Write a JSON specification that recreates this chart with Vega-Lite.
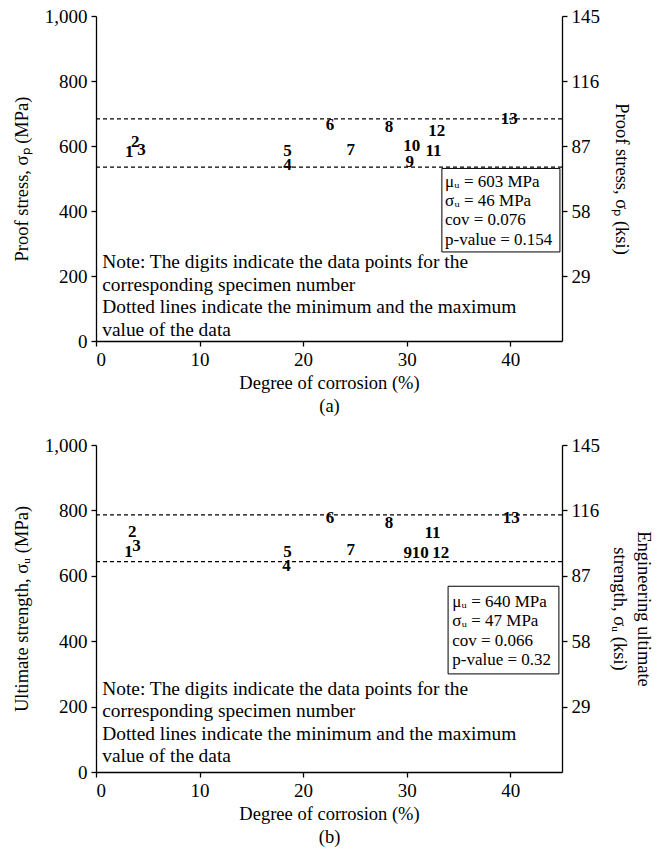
{
  "$schema": "https://vega.github.io/schema/vega-lite/v6.json",
  "padding": {"left": 12, "top": 7, "right": 5, "bottom": 5},
  "spacing": 21,
  "config": {
    "font": "Liberation Serif",
    "view": {"stroke": null},
    "axis": {
      "grid": false,
      "domainColor": "black",
      "tickColor": "black",
      "labelColor": "black",
      "titleColor": "black",
      "labelFontSize": 19,
      "titleFontSize": 18.5,
      "titleFontWeight": "normal",
      "labelFont": "Liberation Serif",
      "titleFont": "Liberation Serif",
      "tickSize": 5,
      "domainWidth": 1.3,
      "tickWidth": 1.3
    },
    "text": {"font": "Liberation Serif", "color": "black"}
  },
  "datasets": {
    "proof": [
      {"specimen": "1", "corrosion": 3.2, "stress": 581},
      {"specimen": "2", "corrosion": 3.8, "stress": 613},
      {"specimen": "3", "corrosion": 4.4, "stress": 589},
      {"specimen": "4", "corrosion": 18.5, "stress": 542},
      {"specimen": "5", "corrosion": 18.5, "stress": 585},
      {"specimen": "6", "corrosion": 22.6, "stress": 665},
      {"specimen": "7", "corrosion": 24.6, "stress": 589},
      {"specimen": "8", "corrosion": 28.3, "stress": 658},
      {"specimen": "9", "corrosion": 30.3, "stress": 550},
      {"specimen": "10", "corrosion": 30.5, "stress": 601},
      {"specimen": "11", "corrosion": 32.6, "stress": 585},
      {"specimen": "12", "corrosion": 32.9, "stress": 645},
      {"specimen": "13", "corrosion": 39.9, "stress": 683}
    ],
    "ultimate": [
      {"specimen": "1", "corrosion": 3.15, "stress": 672},
      {"specimen": "2", "corrosion": 3.5, "stress": 735},
      {"specimen": "3", "corrosion": 3.9, "stress": 690},
      {"specimen": "4", "corrosion": 18.4, "stress": 631},
      {"specimen": "5", "corrosion": 18.5, "stress": 672},
      {"specimen": "6", "corrosion": 22.6, "stress": 776},
      {"specimen": "7", "corrosion": 24.6, "stress": 680},
      {"specimen": "8", "corrosion": 28.3, "stress": 761},
      {"specimen": "9", "corrosion": 30.1, "stress": 670},
      {"specimen": "10", "corrosion": 31.3, "stress": 670},
      {"specimen": "11", "corrosion": 32.5, "stress": 731},
      {"specimen": "12", "corrosion": 33.3, "stress": 670},
      {"specimen": "13", "corrosion": 40.1, "stress": 776}
    ],
    "proofBounds": [
      {"bound": "max", "ksi": 99.1},
      {"bound": "min", "ksi": 77.6}
    ],
    "ultimateBounds": [
      {"bound": "max", "ksi": 114.0},
      {"bound": "min", "ksi": 93.3}
    ],
    "single": [{}]
  },
  "vconcat": [
    {
      "width": 466,
      "height": 325,
      "layer": [
        {
          "data": {"name": "proofBounds"},
          "mark": {"type": "rule", "strokeDash": [4, 3], "color": "black", "strokeWidth": 1.3},
          "encoding": {
            "y": {
              "field": "ksi", "type": "quantitative",
              "scale": {"domain": [0, 145], "nice": false},
              "axis": {"orient": "right", "values": [29, 58, 87, 116, 145], "title": "Proof stress, σₚ (ksi)", "titlePadding": 12, "labelPadding": 4}
            }
          }
        },
        {
          "layer": [
            {
              "data": {"name": "proof"},
              "mark": {"type": "text", "fontWeight": "bold", "fontSize": 17, "align": "center", "baseline": "middle"},
              "encoding": {
                "x": {
                  "field": "corrosion", "type": "quantitative",
                  "scale": {"domain": [0, 45], "nice": false},
                  "axis": {"values": [0, 10, 20, 30, 40], "title": ["Degree of corrosion (%)", "(a)"], "titleLineHeight": 23, "titlePadding": 4, "labelPadding": 4}
                },
                "y": {
                  "field": "stress", "type": "quantitative",
                  "scale": {"domain": [0, 1000], "nice": false},
                  "axis": {"orient": "left", "values": [0, 200, 400, 600, 800, 1000], "title": "Proof stress, σₚ (MPa)", "titlePadding": 13, "labelPadding": 4}
                },
                "text": {"field": "specimen"}
              }
            },
            {
              "data": {"name": "single"},
              "mark": {"type": "rect", "fill": "white", "stroke": "black", "strokeWidth": 1},
              "encoding": {
                "x": {"datum": 33.4, "type": "quantitative", "scale": {"domain": [0, 45], "nice": false}},
                "x2": {"datum": 44.8},
                "y": {"datum": 531, "type": "quantitative", "scale": {"domain": [0, 1000], "nice": false}},
                "y2": {"datum": 274}
              }
            },
            {
              "data": {"name": "single"},
              "mark": {"type": "text", "fontSize": 17, "align": "left", "baseline": "middle", "lineHeight": 19.2},
              "encoding": {
                "x": {"datum": 33.7, "type": "quantitative", "scale": {"domain": [0, 45], "nice": false}},
                "y": {"datum": 489, "type": "quantitative", "scale": {"domain": [0, 1000], "nice": false}},
                "text": {"value": ["μᵤ = 603 MPa", "σᵤ = 46 MPa", "cov = 0.076", "p-value = 0.154"]}
              }
            },
            {
              "data": {"name": "single"},
              "mark": {"type": "text", "fontSize": 19.4, "align": "left", "baseline": "middle", "lineHeight": 22.5},
              "encoding": {
                "x": {"datum": 0.6, "type": "quantitative", "scale": {"domain": [0, 45], "nice": false}},
                "y": {"datum": 243, "type": "quantitative", "scale": {"domain": [0, 1000], "nice": false}},
                "text": {"value": ["Note: The digits indicate the data points for the", "corresponding specimen number", "Dotted lines indicate the minimum and the maximum", "value of the data"]}
              }
            }
          ]
        }
      ],
      "resolve": {"scale": {"y": "independent"}, "axis": {"y": "independent"}}
    },
    {
      "width": 466,
      "height": 327,
      "layer": [
        {
          "data": {"name": "ultimateBounds"},
          "mark": {"type": "rule", "strokeDash": [4, 3], "color": "black", "strokeWidth": 1.3},
          "encoding": {
            "y": {
              "field": "ksi", "type": "quantitative",
              "scale": {"domain": [0, 145], "nice": false},
              "axis": {"orient": "right", "values": [29, 58, 87, 116, 145], "title": ["Engineering ultimate", "strength, σᵤ (ksi)"], "titleLineHeight": 24, "titlePadding": 10, "labelPadding": 4}
            }
          }
        },
        {
          "layer": [
            {
              "data": {"name": "ultimate"},
              "mark": {"type": "text", "fontWeight": "bold", "fontSize": 17, "align": "center", "baseline": "middle"},
              "encoding": {
                "x": {
                  "field": "corrosion", "type": "quantitative",
                  "scale": {"domain": [0, 45], "nice": false},
                  "axis": {"values": [0, 10, 20, 30, 40], "title": ["Degree of corrosion (%)", "(b)"], "titleLineHeight": 23, "titlePadding": 4, "labelPadding": 4}
                },
                "y": {
                  "field": "stress", "type": "quantitative",
                  "scale": {"domain": [0, 1000], "nice": false},
                  "axis": {"orient": "left", "values": [0, 200, 400, 600, 800, 1000], "title": "Ultimate strength, σᵤ (MPa)", "titlePadding": 13, "labelPadding": 4}
                },
                "text": {"field": "specimen"}
              }
            },
            {
              "data": {"name": "single"},
              "mark": {"type": "rect", "fill": "white", "stroke": "black", "strokeWidth": 1},
              "encoding": {
                "x": {"datum": 34.0, "type": "quantitative", "scale": {"domain": [0, 45], "nice": false}},
                "x2": {"datum": 44.7},
                "y": {"datum": 568, "type": "quantitative", "scale": {"domain": [0, 1000], "nice": false}},
                "y2": {"datum": 300}
              }
            },
            {
              "data": {"name": "single"},
              "mark": {"type": "text", "fontSize": 17, "align": "left", "baseline": "middle", "lineHeight": 19.2},
              "encoding": {
                "x": {"datum": 34.4, "type": "quantitative", "scale": {"domain": [0, 45], "nice": false}},
                "y": {"datum": 519, "type": "quantitative", "scale": {"domain": [0, 1000], "nice": false}},
                "text": {"value": ["μᵤ = 640 MPa", "σᵤ = 47 MPa", "cov = 0.066", "p-value = 0.32"]}
              }
            },
            {
              "data": {"name": "single"},
              "mark": {"type": "text", "fontSize": 19.4, "align": "left", "baseline": "middle", "lineHeight": 22.5},
              "encoding": {
                "x": {"datum": 0.6, "type": "quantitative", "scale": {"domain": [0, 45], "nice": false}},
                "y": {"datum": 254, "type": "quantitative", "scale": {"domain": [0, 1000], "nice": false}},
                "text": {"value": ["Note: The digits indicate the data points for the", "corresponding specimen number", "Dotted lines indicate the minimum and the maximum", "value of the data"]}
              }
            }
          ]
        }
      ],
      "resolve": {"scale": {"y": "independent"}, "axis": {"y": "independent"}}
    }
  ]
}
